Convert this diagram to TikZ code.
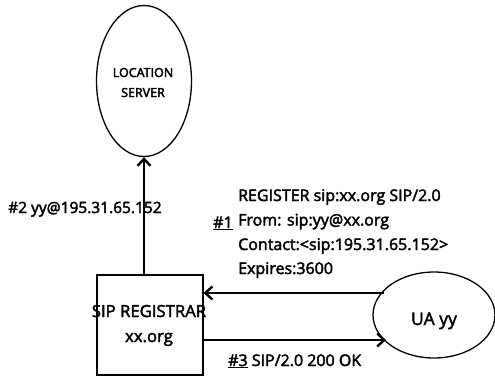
\documentclass[tikz,border=0pt]{standalone}
\usepackage{fontspec}
\setmainfont{Open Sans}
\usetikzlibrary{arrows.meta,shapes.geometric}
\newcommand{\thk}[1]{\special{pdf:literal 2 Tr 0.4 w}#1\special{pdf:literal 0 Tr}}
\begin{document}
\begin{tikzpicture}[x=1pt,y=-1pt,
  lbl/.style={font=\fontsize{16}{24}\selectfont, inner sep=0pt, anchor=base west},
  arr/.style={line width=2.6pt, -{Straight Barb[length=7pt,width=13pt,line width=2.4pt]}},
  ell/.style={draw, ellipse, line width=1.3pt, inner sep=0pt}]
\useasboundingbox (0,0) rectangle (495,376);
\node[ell, minimum width=95, minimum height=151] (ls) at (144,81) {};
\node[font=\fontsize{12.5}{14}\selectfont, inner sep=0pt, anchor=base] (lst1) at (143,77) {\thk{LOCATION}};
\node[font=\fontsize{12.5}{14}\selectfont, inner sep=0pt, anchor=base] (lst2) at (143,97) {\thk{SERVER}};
\node[draw, line width=1.2pt, minimum width=106, minimum height=100, inner sep=0pt] (reg) at (150,325) {};
\node[font=\fontsize{16.7}{20}\selectfont, inner sep=0pt, anchor=base] (regt1) at (149,317) {\thk{SIP REGISTRAR}};
\node[font=\fontsize{16.7}{20}\selectfont, inner sep=0pt, anchor=base] (regt2) at (149,342) {\thk{xx.org}};
\node[ell, minimum width=122, minimum height=86] (ua) at (434,315) {};
\node[font=\fontsize{17.5}{20}\selectfont, inner sep=0pt, anchor=base] (uat) at (434,325) {\thk{UA yy}};
\draw[arr] (reg.north -| ls.south) -- (ls.south);
\coordinate (a1s) at (384,293);
\coordinate (a3e) at (386,340);
\draw[arr] (a1s) -- (reg.east |- a1s);
\draw[arr] (reg.east |- a3e) -- (a3e);
\node[lbl, font=\fontsize{15.5}{24}\selectfont] (l2) at (8,213) {\thk{\#2 yy@195.31.65.152}};
\node[lbl] (l1a) at (238,201) {\thk{REGISTER sip:xx.org SIP/2.0}};
\node[lbl] (l1b) at (238,225.5) {\thk{From: sip:yy@xx.org}};
\node[lbl] (l1c) at (238,250) {\thk{Contact:<sip:195.31.65.152>}};
\node[lbl] (l1d) at (238,274) {\thk{Expires:3600}};
\node[lbl] (n1) at (213,228) {\thk{\underline{\#1}}};
\node[lbl] (l3) at (228,366) {\thk{\underline{\#3} SIP/2.0 200 OK}};
\end{tikzpicture}
\end{document}
